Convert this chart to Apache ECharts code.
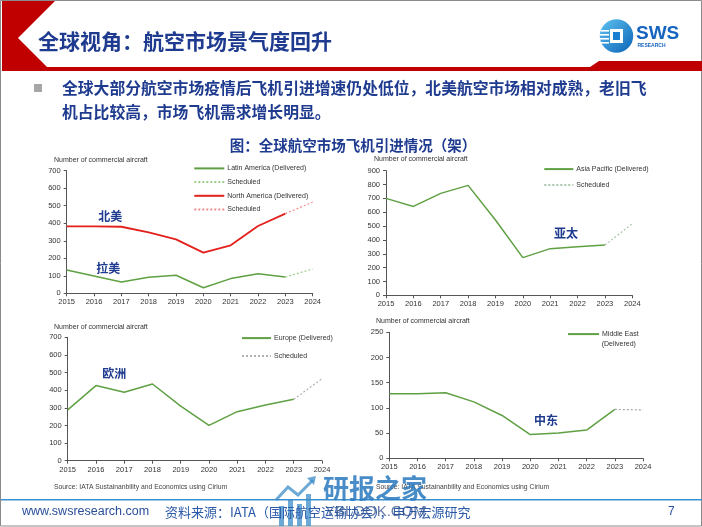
<!DOCTYPE html>
<html><head><meta charset="utf-8">
<script src="https://cdn.jsdelivr.net/npm/echarts@6/dist/echarts.min.js"></script>
<style>html,body{margin:0;padding:0;background:#fff}#c{width:702px;height:527px}</style>
</head><body><div id="c"></div>
<script>
const years = ['2015','2016','2017','2018','2019','2020','2021','2022','2023','2024'];
const latinDelivered = [133, 99, 65, 91, 103, 32, 84, 112, 93, null];
const latinScheduled = [null, null, null, null, null, null, null, null, 93, 139];
const naDelivered = [382, 382, 380, 348, 308, 232, 274, 384, 455, null];
const naScheduled = [null, null, null, null, null, null, null, null, 455, 521];
const apDelivered = [700, 642, 736, 794, 544, 272, 337, 351, 363, null];
const apScheduled = [null, null, null, null, null, null, null, null, 363, 517];
const euDelivered = [288, 426, 388, 435, 310, 200, 278, 316, 348, null];
const euScheduled = [null, null, null, null, null, null, null, null, 348, 465];
const meDelivered = [128, 128, 130, 112, 85, 47, 50, 56, 97, null];
const meScheduled = [null, null, null, null, null, null, null, null, 97, 96];
const yMax = [700, 900, 700, 250];
const yInterval = [100, 100, 100, 50];

const FONT = '"Liberation Sans", Arial, sans-serif';
const CJK = '"Noto Sans CJK SC", "Noto Sans", sans-serif';
const NAVY = '#1f3b8f';
const GREEN = '#5fa043';
const RED = '#e3211c';

const grids = [
  {left: 66.7, top: 170.7, width: 246, height: 122.6},
  {left: 386, top: 170.7, width: 246.3, height: 124.6},
  {left: 67.7, top: 337.3, width: 254.3, height: 123.4},
  {left: 389.3, top: 332.3, width: 253.7, height: 126}
];
const xAxes = grids.map((g, i) => ({
  type: 'category', gridIndex: i, data: years, boundaryGap: false,
  axisLine: {lineStyle: {color: '#555', width: 1}},
  axisTick: {show: true, length: 3, lineStyle: {color: '#555'}},
  axisLabel: {fontSize: 7.5, color: '#333', margin: 5, fontFamily: FONT},
  splitLine: {show: false}
}));
const yAxes = grids.map((g, i) => ({
  type: 'value', gridIndex: i, min: 0, max: yMax[i], interval: yInterval[i],
  axisLine: {show: true, lineStyle: {color: '#555', width: 1}},
  axisTick: {show: true, length: 3, lineStyle: {color: '#555'}},
  axisLabel: {fontSize: 7.5, color: '#333', margin: 6, fontFamily: FONT},
  splitLine: {show: false}
}));

function ln(name, data, gi, color, width, type) {
  return {type: 'line', name, data, xAxisIndex: gi, yAxisIndex: gi, symbol: 'none',
    connectNulls: false, lineStyle: {color, width, type}, itemStyle: {color}};
}
const series = [
  ln('Latin America (Delivered)', latinDelivered, 0, GREEN, 1.5, 'solid'),
  ln('Latin Scheduled', latinScheduled, 0, '#9ccf88', 1.2, [2, 2]),
  ln('North America (Delivered)', naDelivered, 0, RED, 1.8, 'solid'),
  ln('NA Scheduled', naScheduled, 0, '#f08a8a', 1.2, [2, 2]),
  ln('Asia Pacific (Delivered)', apDelivered, 1, GREEN, 1.5, 'solid'),
  ln('AP Scheduled', apScheduled, 1, '#a9c6ab', 1.2, [2, 2]),
  ln('Europe (Delivered)', euDelivered, 2, GREEN, 1.5, 'solid'),
  ln('EU Scheduled', euScheduled, 2, '#b0b0b0', 1.2, [2, 2]),
  ln('Middle East (Delivered)', meDelivered, 3, GREEN, 1.5, 'solid'),
  ln('ME Scheduled', meScheduled, 3, '#9aa89a', 1.2, [2, 2])
];

function lg(name, left, cy, w, label) {
  return {data: [name], left, top: cy - 4.5, orient: 'vertical', itemWidth: w, itemHeight: 9, padding: 0,
    selectedMode: false,
    itemStyle: {opacity: 0, color: 'rgba(0,0,0,0)', borderWidth: 0},
    formatter: () => label,
    textStyle: {fontSize: 7, color: '#333', fontFamily: FONT, padding: [0, 0, 0, -2]}};
}
const legends = [
  lg('Latin America (Delivered)', 193.3, 169.3, 30, 'Latin America (Delivered)'),
  lg('Latin Scheduled', 193.3, 183, 30, 'Scheduled'),
  lg('North America (Delivered)', 193.3, 196.7, 30, 'North America (Delivered)'),
  lg('NA Scheduled', 193.3, 210.3, 30, 'Scheduled'),
  lg('Asia Pacific (Delivered)', 543.3, 170, 29, 'Asia Pacific (Delivered)'),
  lg('AP Scheduled', 543.3, 186, 29, 'Scheduled'),
  lg('Europe (Delivered)', 241, 339, 29, 'Europe (Delivered)'),
  lg('EU Scheduled', 241, 357, 29, 'Scheduled'),
  lg('Middle East (Delivered)', 567, 335, 31, 'Middle East')
];

function txt(text, x, y, font, fill, align) {
  return {type: 'text', z: 100, style: {text, x, y, font, fill, align: align || 'left', verticalAlign: 'middle'}};
}
const WM = 'rgba(60,140,200,0.75)';
const graphic = [
  {type: 'rect', shape: {x: 0.5, y: 0.5, width: 701, height: 525.5}, style: {fill: 'none', stroke: '#8a8a8a', lineWidth: 1}},
  {type: 'polygon', shape: {points: [[2,1],[55,1],[18,38],[47,67],[590,67],[599,61],[702,61],[702,71],[2,71]]}, style: {fill: '#c00000'}},
  {type: 'circle', shape: {cx: 616.5, cy: 36, r: 16.7}, style: {fill: new echarts.graphic.LinearGradient(0,0,1,1,[{offset:0,color:'#5fc3f0'},{offset:1,color:'#0b63b6'}])}},
  {type: 'rect', shape: {x: 610, y: 29, width: 13, height: 14}, style: {fill: '#fff'}},
  {type: 'rect', shape: {x: 613, y: 32, width: 7, height: 8}, style: {fill: '#1a7fd0'}},
  {type: 'rect', shape: {x: 601, y: 30, width: 8, height: 1.6}, style: {fill: '#fff'}},
  {type: 'rect', shape: {x: 600, y: 34, width: 9, height: 1.6}, style: {fill: '#fff'}},
  {type: 'rect', shape: {x: 600, y: 38, width: 9, height: 1.6}, style: {fill: '#fff'}},
  {type: 'rect', shape: {x: 601, y: 42, width: 8, height: 1.6}, style: {fill: '#fff'}},
  txt('SWS', 636, 34, 'bold 19px "Liberation Sans", Arial, sans-serif', '#1565c0'),
  txt('RESEARCH', 637.5, 45.5, 'bold 5px "Liberation Sans", Arial, sans-serif', '#1565c0'),
  txt('全球视角：航空市场景气度回升', 38, 41, 'bold 21px ' + CJK, NAVY),
  {type: 'rect', shape: {x: 34, y: 84, width: 8, height: 8}, style: {fill: '#a6a6a6'}},
  txt('全球大部分航空市场疫情后飞机引进增速仍处低位，北美航空市场相对成熟，老旧飞', 62, 88, 'bold 15.8px ' + CJK, NAVY),
  txt('机占比较高，市场飞机需求增长明显。', 62, 112, 'bold 15.8px ' + CJK, NAVY),
  txt('图：全球航空市场飞机引进情况（架）', 353, 145, 'bold 14.5px ' + CJK, NAVY, 'center'),
  txt('Number of commercial aircraft', 54, 160, '7px ' + FONT, '#333'),
  txt('Number of commercial aircraft', 374, 159.3, '7px ' + FONT, '#333'),
  txt('Number of commercial aircraft', 54, 326.7, '7px ' + FONT, '#333'),
  txt('Number of commercial aircraft', 376, 321, '7px ' + FONT, '#333'),
  txt('(Delivered)', 601.7, 344.3, '7px ' + FONT, '#333'),
  txt('北美', 110.3, 216, 'bold 12px ' + CJK, NAVY, 'center'),
  txt('拉美', 108.3, 268.3, 'bold 12px ' + CJK, NAVY, 'center'),
  txt('亚太', 566, 233.3, 'bold 12px ' + CJK, NAVY, 'center'),
  txt('欧洲', 114.3, 373.3, 'bold 12px ' + CJK, NAVY, 'center'),
  txt('中东', 546, 420, 'bold 12px ' + CJK, NAVY, 'center'),
  txt('Source: IATA Sustainanbility and Economics using Cirium', 54, 487, '6.8px ' + FONT, '#444'),
  txt('Source: IATA Sustainanbility and Economics using Cirium', 376, 487, '6.8px ' + FONT, '#444'),
  {type: 'rect', shape: {x: 1, y: 499, width: 701, height: 1.6}, style: {fill: '#3a8fd0'}},
  txt('www.swsresearch.com', 22, 512, '12.5px ' + FONT, '#2a4f9a'),
  txt('资料来源：IATA（国际航空运输协会），申万宏源研究', 165, 512, '13px ' + CJK, '#2a5aa8'),
  txt('7', 668, 512, '12px ' + FONT, '#2a4f9a'),
  {type: 'rect', z: 99, shape: {x: 279, y: 506, width: 5, height: 20}, style: {fill: WM}},
  {type: 'rect', z: 99, shape: {x: 288, y: 500, width: 5, height: 26}, style: {fill: WM}},
  {type: 'rect', z: 99, shape: {x: 297, y: 504, width: 5, height: 22}, style: {fill: WM}},
  {type: 'rect', z: 99, shape: {x: 306, y: 494, width: 5, height: 32}, style: {fill: WM}},
  {type: 'polyline', z: 99, shape: {points: [[276,500],[288,487],[298,495],[313,480]]}, style: {stroke: WM, lineWidth: 3, fill: 'none'}},
  {type: 'polygon', z: 99, shape: {points: [[307,478],[316,476],[314,485]]}, style: {fill: WM}},
  txt('研报之家', 323, 488, 'bold 26px ' + CJK, 'rgba(40,120,190,0.85)'),
  txt('YBLOOK.COM', 325, 512, '15px ' + FONT, 'rgba(50,80,140,0.75)')
];

const chart = echarts.init(document.getElementById('c'), null, {renderer: 'canvas'});
chart.setOption({
  animation: false, backgroundColor: '#fff',
  grid: grids, xAxis: xAxes, yAxis: yAxes, legend: legends, series, graphic
});
</script></body></html>
